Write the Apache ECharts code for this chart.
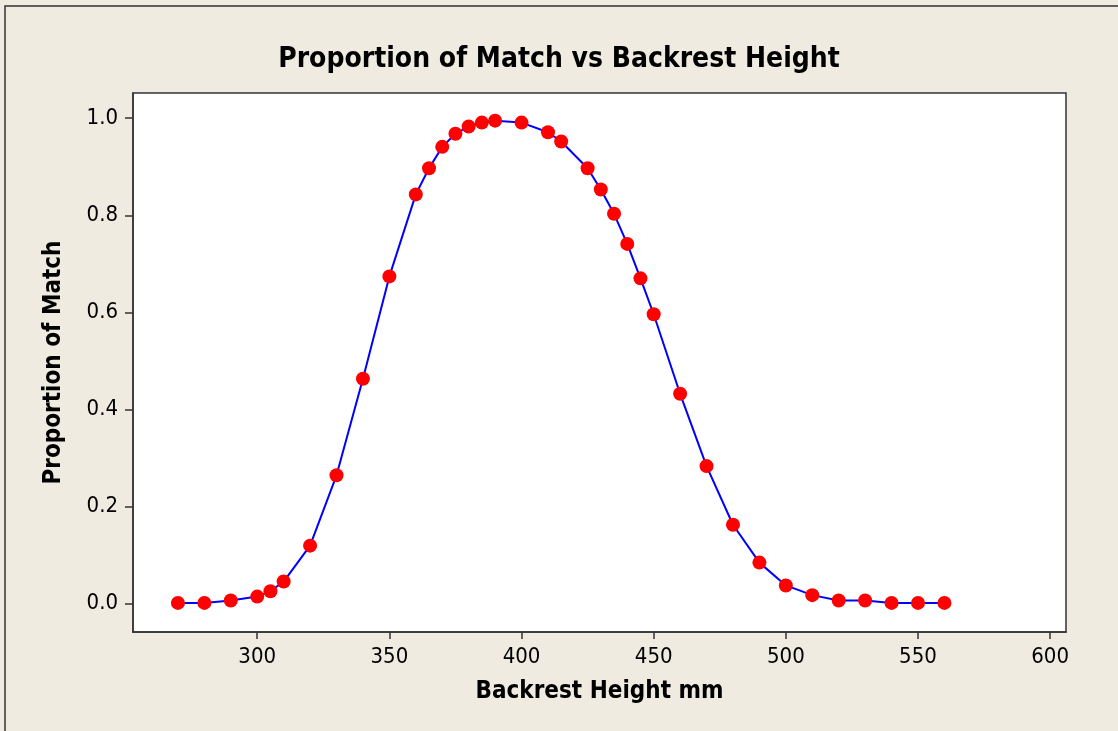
<!DOCTYPE html>
<html>
<head>
<meta charset="utf-8">
<script src="https://cdn.jsdelivr.net/npm/echarts@6/dist/echarts.min.js"></script>
<style>
html,body{margin:0;padding:0;background:#efebe1;}
#c{width:1118px;height:731px;}
</style>
</head>
<body>
<div id="c"></div>
<script>
var heights = [270, 280, 290, 300, 305, 310, 320, 330, 340, 350, 360, 365, 370, 375, 380, 385, 390, 400, 410, 415, 425, 430, 435, 440, 445, 450, 460, 470, 480, 490, 500, 510, 520, 530, 540, 550, 560];
var proportions = [0.001, 0.001, 0.006, 0.014, 0.025, 0.045, 0.119, 0.264, 0.463, 0.674, 0.843, 0.897, 0.941, 0.968, 0.983, 0.991, 0.995, 0.991, 0.971, 0.952, 0.897, 0.853, 0.803, 0.741, 0.670, 0.596, 0.432, 0.283, 0.162, 0.084, 0.037, 0.017, 0.006, 0.006, 0.001, 0.001, 0.001];
var xTicks = [300, 350, 400, 450, 500, 550, 600];
var yTicks = [0, 0.2, 0.4, 0.6, 0.8, 1.0];

var points = heights.map(function (h, i) { return [h, proportions[i]]; });
var chart = echarts.init(document.getElementById('c'), null, {renderer: 'canvas'});
var font = '"DejaVu Sans Condensed", "DejaVu Sans", sans-serif';
chart.setOption({
  backgroundColor: '#efebe1',
  animation: false,
  title: {
    text: 'Proportion of Match vs Backrest Height',
    left: 'center',
    top: 41,
    textStyle: {fontFamily: font, fontWeight: 'bold', fontSize: 28, color: '#000'}
  },
  graphic: [{
    type: 'rect',
    shape: {x: 5, y: 6, width: 1200, height: 800},
    style: {fill: 'none', stroke: '#333', lineWidth: 1.5},
    silent: true
  }],
  grid: {
    left: 133, top: 93, right: 52, bottom: 99,
    show: true, backgroundColor: '#fff', borderColor: '#333', borderWidth: 1.5
  },
  xAxis: {
    type: 'value',
    min: 253, max: 606,
    name: 'Backrest Height mm',
    nameLocation: 'middle',
    nameGap: 48,
    nameTextStyle: {fontFamily: font, fontWeight: 'bold', fontSize: 24, color: '#000'},
    axisLine: {show: true, onZero: false, lineStyle: {color: '#333', width: 1.5}},
    axisTick: {show: true, inside: false, length: 7, lineStyle: {color: '#333', width: 1.5}, customValues: xTicks},
    axisLabel: {fontFamily: font, fontSize: 22, color: '#000', margin: 14, customValues: xTicks},
    splitLine: {show: false}
  },
  yAxis: {
    type: 'value',
    min: -0.059, max: 1.052,
    name: 'Proportion of Match',
    nameLocation: 'middle',
    nameGap: 67,
    nameTextStyle: {fontFamily: font, fontWeight: 'bold', fontSize: 24, color: '#000'},
    axisLine: {show: true, onZero: false, lineStyle: {color: '#333', width: 1.5}},
    axisTick: {show: true, inside: false, length: 8, lineStyle: {color: '#333', width: 1.5}, customValues: yTicks},
    axisLabel: {fontFamily: font, fontSize: 22, color: '#000', margin: 15, customValues: yTicks,
      formatter: function (v) { return v.toFixed(1); }},
    splitLine: {show: false}
  },
  series: [{
    type: 'line',
    data: points,
    symbol: 'circle',
    symbolSize: 14,
    lineStyle: {color: '#0000ff', width: 2},
    itemStyle: {color: '#ff0000'},
    z: 3
  }]
});
</script>
</body>
</html>
